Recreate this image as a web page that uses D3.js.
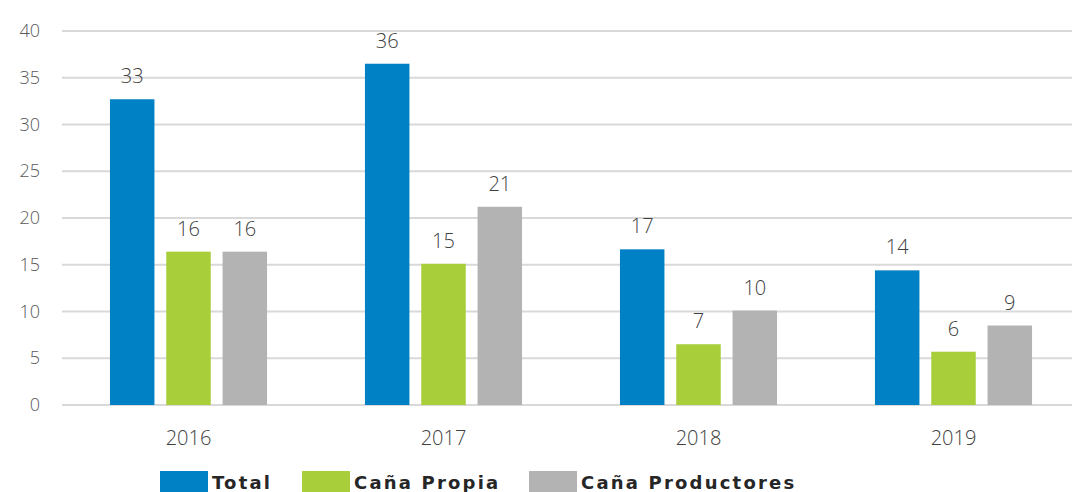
<!DOCTYPE html>
<html><head><meta charset="utf-8">
<script src="https://cdn.jsdelivr.net/npm/d3@7"></script>
<style>body{margin:0;background:#fff;}svg{display:block;font-family:"Open Sans",Lato,sans-serif;}</style>
</head><body>
<svg id="c" width="1072" height="492"></svg>
<script>
const categories = ["2016","2017","2018","2019"];
const seriesNames = ["Total","Caña Propia","Caña Productores"];
const total = [32.7, 36.5, 16.65, 14.4];
const canaPropia = [16.4, 15.1, 6.5, 5.7];
const canaProductores = [16.4, 21.2, 10.1, 8.5];
const labelsTotal = ["33","36","17","14"];
const labelsPropia = ["16","15","7","6"];
const labelsProductores = ["16","21","10","9"];
const yTicks = [0,5,10,15,20,25,30,35,40];
const colors = ["#0080C5","#A8CE3A","#B3B3B3"];

const series = [total, canaPropia, canaProductores];
const labels = [labelsTotal, labelsPropia, labelsProductores];

const svg = d3.select("#c");
const y = d3.scaleLinear().domain([0,40]).range([405,31]);
const x = d3.scaleBand().domain(categories).range([61,1081]).paddingInner(0.384).paddingOuter(0.192);
const xs = d3.scaleBand().domain(d3.range(3)).range([0, x.bandwidth()]).paddingInner(0.21);

svg.append("g").selectAll("line").data(yTicks).join("line")
  .attr("x1",62).attr("x2",1072)
  .attr("y1",d=>y(d)).attr("y2",d=>y(d))
  .attr("stroke","#D9D9D9").attr("stroke-width",2);

svg.append("g").selectAll("text").data(yTicks).join("text")
  .attr("x",40).attr("y",d=>y(d)+6)
  .attr("text-anchor","end").attr("font-size",18).attr("font-weight",300)
  .attr("fill","#595959").text(d=>d);

const g = svg.append("g");
series.forEach((vals,si)=>{
  g.append("g").selectAll("rect").data(categories).join("rect")
    .attr("x",(c)=>x(c)+xs(si)).attr("width",xs.bandwidth())
    .attr("y",(c,i)=>y(vals[i])).attr("height",(c,i)=>y(0)-y(vals[i]))
    .attr("fill",colors[si]);
  g.append("g").selectAll("text").data(categories).join("text")
    .attr("x",(c)=>x(c)+xs(si)+xs.bandwidth()/2)
    .attr("y",(c,i)=>y(vals[i])-16)
    .attr("text-anchor","middle").attr("font-size",20).attr("font-weight",300)
    .attr("fill","#404040").text((c,i)=>labels[si][i]);
});

svg.append("g").selectAll("text").data(categories).join("text")
  .attr("x",c=>x(c)+x.bandwidth()/2).attr("y",445)
  .attr("text-anchor","middle").attr("font-size",20).attr("font-weight",300)
  .attr("fill","#404040").text(c=>c);

const legX = [160, 302, 529];
const leg = svg.append("g");
seriesNames.forEach((n,i)=>{
  leg.append("rect").attr("x",legX[i]).attr("y",471).attr("width",48).attr("height",21).attr("fill",colors[i]);
  leg.append("text").attr("x",legX[i]+52).attr("y",489)
    .attr("font-family","'DejaVu Sans',sans-serif")
    .attr("font-size",18).attr("font-weight",700).attr("letter-spacing",2.2)
    .attr("fill","#262626").text(n);
});
</script>
</body></html>
